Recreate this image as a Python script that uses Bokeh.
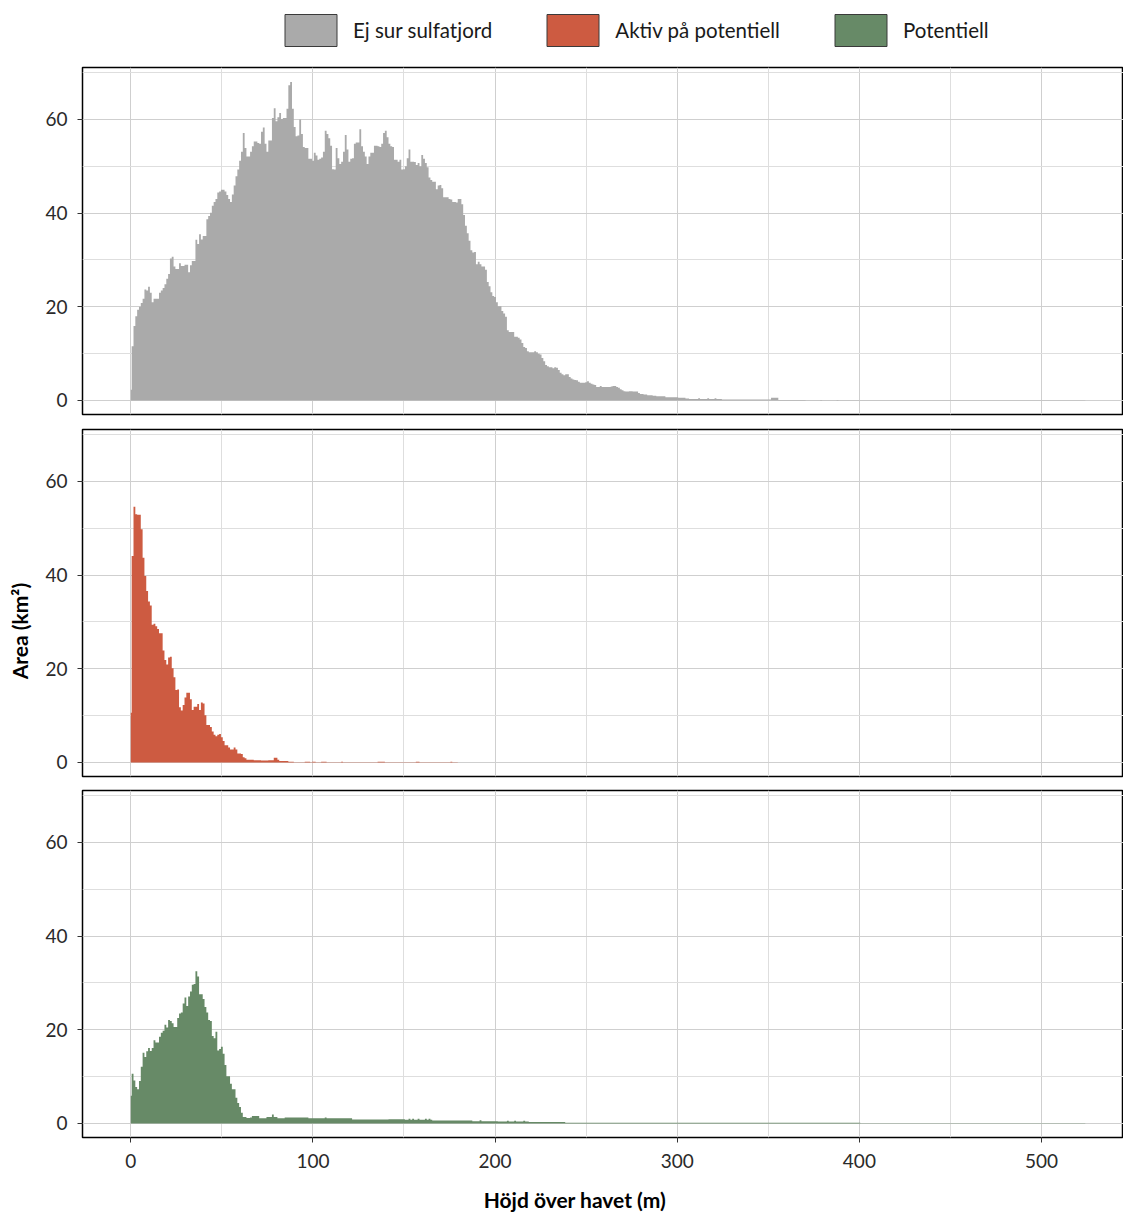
from bokeh.plotting import figure
from bokeh.layouts import column
from bokeh.models import (Range1d, Legend, LegendItem, ColumnDataSource,
                          FixedTicker)
from bokeh.embed import file_html
from bokeh.resources import INLINE

FONT = "Lato"

series_names = ["Ej sur sulfatjord", "Aktiv på potentiell", "Potentiell"]
series_colors = ["#aaaaaa", "#cd5b41", "#678a67"]

y_ticks = [0, 20, 40, 60]
y_minor = [10, 30, 50, 70]
x_ticks = [0, 100, 200, 300, 400, 500]
x_minor = [50, 150, 250, 350, 450, 550]

x_title = "Höjd över havet (m)"
y_title = "Area (km²)"
# non-breaking spaces used only to nudge the centred axis titles
TITLE_PAD = "\u00a0" * 11

# Area (km2) per 1 m elevation bin, starting at 0 m
gray_vals = [
    2.3, 11.6, 15.9, 18.0, 19.4, 20.0, 20.8, 21.7, 23.7, 23.5,
    24.3, 23.0, 21.0, 21.7, 21.7, 21.7, 23.0, 23.5, 24.0, 24.8,
    26.0, 27.0, 30.3, 30.7, 28.6, 28.1, 28.1, 29.3, 28.7, 28.7,
    29.0, 29.0, 27.4, 28.9, 29.8, 29.8, 34.3, 33.4, 35.5, 34.4,
    35.1, 35.1, 38.7, 39.4, 40.1, 41.6, 42.4, 43.0, 44.4, 44.6,
    45.0, 45.0, 44.6, 43.9, 43.0, 42.4, 44.0, 45.9, 47.9, 49.3,
    51.2, 53.1, 57.1, 53.9, 52.1, 52.1, 53.1, 54.3, 55.3, 55.3,
    55.0, 54.8, 57.4, 58.3, 54.8, 53.1, 55.5, 55.5, 60.3, 62.4,
    59.6, 60.5, 61.4, 60.1, 60.3, 60.3, 62.3, 67.3, 68.0, 62.3,
    58.4, 56.4, 56.6, 60.0, 56.9, 54.1, 53.9, 53.9, 51.6, 51.6,
    51.2, 52.9, 52.3, 51.4, 51.6, 51.9, 53.1, 57.6, 56.9, 56.0,
    54.4, 49.4, 49.3, 53.9, 51.7, 50.5, 51.0, 53.1, 56.7, 53.6,
    51.0, 51.6, 51.7, 54.8, 55.1, 55.1, 57.9, 54.3, 53.1, 52.1,
    50.5, 52.1, 52.9, 52.9, 54.4, 54.4, 54.3, 54.1, 54.8, 57.1,
    57.6, 56.2, 54.8, 54.3, 54.1, 51.4, 51.4, 51.0, 51.4, 49.3,
    49.4, 50.0, 51.7, 53.6, 51.0, 51.0, 50.9, 50.3, 50.7, 50.0,
    52.4, 51.6, 50.7, 49.8, 47.6, 47.1, 46.7, 46.7, 45.1, 45.9,
    46.0, 45.3, 43.4, 43.4, 43.4, 43.0, 42.9, 42.4, 42.4, 42.3,
    43.0, 43.0, 41.9, 39.6, 37.3, 35.7, 34.1, 32.1, 31.6, 31.7,
    29.1, 29.6, 29.1, 28.6, 28.6, 27.9, 25.3, 24.4, 23.1, 22.3,
    22.1, 21.0, 20.1, 20.1, 19.1, 18.6, 17.9, 15.0, 14.6, 14.6,
    14.6, 13.6, 13.6, 13.4, 13.0, 12.3, 11.4, 11.2, 10.5, 10.3,
    10.3, 10.3, 10.5, 10.3, 10.0, 9.8, 9.1, 8.4, 7.6, 7.3,
    7.1, 7.1, 6.9, 7.1, 7.0, 6.5, 5.9, 5.6, 5.4, 5.6,
    5.6, 5.0, 4.7, 4.5, 4.4, 4.3, 4.0, 3.8, 3.8, 3.8,
    3.9, 4.1, 3.8, 3.6, 3.4, 3.3, 2.9, 2.9, 3.1, 2.9,
    2.9, 2.9, 2.9, 2.9, 3.0, 3.1, 3.1, 2.9, 2.7, 2.4,
    2.2, 2.0, 1.9, 1.9, 2.0, 2.0, 1.9, 1.9, 1.9, 1.6,
    1.4, 1.4, 1.3, 1.3, 1.1, 1.1, 1.1, 1.0, 1.0, 0.9,
    0.9, 0.9, 0.9, 0.9, 0.7, 0.7, 0.7, 0.7, 0.7, 0.7,
    0.7, 0.6, 0.6, 0.6, 0.6, 0.4, 0.4, 0.3, 0.3, 0.3,
    0.3, 0.3, 0.5, 0.3, 0.3, 0.3, 0.3, 0.5, 0.3, 0.3,
    0.3, 0.5, 0.3, 0.3, 0.3, 0.2, 0.2, 0.2, 0.2, 0.2,
    0.2, 0.2, 0.2, 0.2, 0.2, 0.2, 0.2, 0.2, 0.2, 0.2,
    0.2, 0.2, 0.2, 0.2, 0.2, 0.2, 0.2, 0.2, 0.2, 0.2,
    0.2, 0.2, 0.6, 0.6, 0.6, 0.6, 0.1, 0.1, 0.1, 0.1,
    0.1, 0.1, 0.1, 0.1, 0.1, 0.1, 0.1, 0.1, 0.1, 0.1,
    0.1, 0.05, 0.05, 0.05, 0.05, 0.05, 0.05, 0.05, 0.05, 0.1,
    0.05, 0.05, 0.05, 0.05, 0.05, 0.05, 0.05, 0.05, 0.1, 0.05,
    0.05, 0.05, 0.05, 0.05, 0.05, 0.05, 0.05, 0.05, 0.05, 0.05,
    0.05, 0.05, 0.05, 0.05, 0.05, 0.05, 0.05, 0.05, 0.05, 0.05,
    0.05, 0.05, 0.05, 0.05, 0.05, 0.05, 0.05, 0.05, 0.05, 0.05,
    0.05, 0.05, 0.05, 0.05, 0.05, 0.05, 0.05, 0.05, 0.05, 0.05,
    0.05, 0.05, 0.05, 0.05, 0.05, 0.05, 0.05, 0.05, 0.05, 0.05,
    0.05, 0.05, 0.05, 0.05, 0.05, 0.05, 0.05, 0.05, 0.05, 0.05,
    0.05, 0.05, 0.05, 0.05, 0.05, 0.05, 0.05, 0.05, 0.05, 0.05,
    0.05, 0.05, 0.05, 0.05, 0.05, 0.05, 0.05, 0.05, 0.05, 0.05,
    0.05, 0.05, 0.05, 0.05, 0.05, 0.05, 0.05, 0.05, 0.05, 0.05,
    0.05, 0.05, 0.05, 0.05, 0.05, 0.05, 0.05, 0.05, 0.05, 0.05,
    0.05, 0.05, 0.05, 0.05, 0.05, 0.05, 0.05, 0.05, 0.05, 0.05,
    0.05, 0.05, 0.05, 0.05, 0.05, 0.05, 0.05, 0.05, 0.05, 0.05,
    0.05, 0.05, 0.05, 0.05, 0.05, 0.05, 0.05, 0.05, 0.05, 0.05,
    0.05, 0.05, 0.05, 0.05, 0.05,
]

red_vals = [
    10.6, 44.1, 54.6, 53.0, 52.9, 52.9, 49.8, 43.7, 39.8, 36.6,
    34.4, 33.5, 29.4, 29.6, 29.1, 28.5, 27.6, 27.6, 23.9, 21.9,
    20.9, 22.4, 22.6, 20.1, 18.2, 15.5, 15.6, 11.8, 11.1, 12.3,
    13.9, 14.9, 14.9, 13.5, 11.2, 11.9, 11.9, 12.5, 11.2, 12.8,
    12.6, 10.1, 8.0, 8.0, 7.6, 6.6, 5.9, 5.6, 5.9, 6.1,
    5.4, 4.6, 3.7, 3.7, 3.2, 2.8, 2.8, 3.2, 2.8, 1.9,
    1.9, 1.8, 1.1, 0.9, 0.6, 0.6, 0.6, 0.6, 0.5, 0.5,
    0.5, 0.5, 0.4, 0.4, 0.4, 0.4, 0.5, 0.5, 0.5, 1.0,
    1.0, 0.6, 0.3, 0.3, 0.3, 0.3, 0.3, 0.15, 0.15, 0.15,
    0.03, 0.03, 0.03, 0.03, 0.03, 0.03, 0.15, 0.15, 0.15, 0.03,
    0.15, 0.15, 0.03, 0.03, 0.03, 0.15, 0.15, 0.15, 0.03, 0.03,
    0.03, 0.03, 0.03, 0.03, 0.03, 0.03, 0.15, 0.03, 0.03, 0.03,
    0.03, 0.03, 0.03, 0.03, 0.03, 0.03, 0.03, 0.03, 0.03, 0.03,
    0.03, 0.03, 0.03, 0.03, 0.03, 0.03, 0.15, 0.15, 0.15, 0.15,
    0.03, 0.03, 0.03, 0.03, 0.03, 0.03, 0.03, 0.03, 0.03, 0.03,
    0.03, 0.03, 0.03, 0.03, 0.03, 0.03, 0.03, 0.15, 0.15, 0.03,
    0.03, 0.03, 0.03, 0.03, 0.03, 0.03, 0.03, 0.03, 0.03, 0.03,
    0.03, 0.03, 0.03, 0.03, 0.03, 0.03, 0.15, 0.03, 0.03, 0.03,
    0.02, 0.02, 0.02, 0.02, 0.02, 0.02, 0.02, 0.02, 0.02, 0.02,
    0.02, 0.02, 0.02, 0.02, 0.02, 0.02, 0.02, 0.02, 0.02, 0.02,
    0.02, 0.02, 0.02, 0.02, 0.02, 0.02, 0.02, 0.02, 0.02, 0.02,
    0.02, 0.02, 0.02, 0.02, 0.02, 0.02, 0.02, 0.02, 0.02, 0.02,
    0.02, 0.02, 0.02, 0.02, 0.02, 0.02, 0.02, 0.02, 0.02, 0.02,
    0.02, 0.02, 0.02, 0.02, 0.02, 0.02, 0.02, 0.02, 0.02, 0.02,
    0.02, 0.02, 0.02, 0.02, 0.02, 0.02, 0.02, 0.02, 0.02, 0.02,
    0.02, 0.02, 0.02, 0.02, 0.02, 0.02, 0.02, 0.02, 0.02, 0.02,
    0.02, 0.02, 0.02, 0.02, 0.02, 0.02, 0.02, 0.02, 0.02, 0.02,
    0.02, 0.02, 0.02, 0.02, 0.02, 0.02, 0.02, 0.02, 0.02, 0.02,
    0.02, 0.02, 0.02, 0.02, 0.02, 0.02, 0.02, 0.02, 0.02, 0.02,
    0.02, 0.02, 0.02, 0.02, 0.02, 0.02, 0.02, 0.02, 0.02, 0.02,
    0.02, 0.02, 0.02, 0.02, 0.02, 0.02, 0.02, 0.02, 0.02, 0.02,
    0.02, 0.02, 0.02, 0.02, 0.02, 0.02, 0.02, 0.02, 0.02, 0.02,
    0.02, 0.02, 0.02, 0.02, 0.02, 0.02, 0.02, 0.02, 0.02, 0.02,
    0.02, 0.02, 0.02, 0.02, 0.02, 0.02, 0.02, 0.02, 0.02, 0.02,
    0.02, 0.02, 0.02, 0.02, 0.02, 0.02, 0.02, 0.02, 0.02, 0.02,
    0.02, 0.02, 0.02, 0.02, 0.02, 0.02, 0.02, 0.02, 0.02, 0.02,
    0.02, 0.02, 0.02, 0.02, 0.02, 0.02, 0.02, 0.02, 0.02, 0.02,
    0.02, 0.02, 0.02, 0.02, 0.02, 0.02, 0.02, 0.02, 0.02, 0.02,
    0.02, 0.02, 0.02, 0.02, 0.02, 0.02, 0.02, 0.02, 0.02, 0.02,
    0.02, 0.02, 0.02, 0.02, 0.02, 0.02, 0.02, 0.02, 0.02, 0.02,
    0.02, 0.02, 0.02, 0.02, 0.02, 0.02, 0.02, 0.02, 0.02, 0.02,
    0.02, 0.02, 0.02, 0.02, 0.02, 0.02, 0.02, 0.02, 0.02, 0.02,
    0.02, 0.02, 0.02, 0.02, 0.02, 0.02, 0.02, 0.02, 0.02, 0.02,
    0.02, 0.02, 0.02, 0.02, 0.02, 0.02, 0.02, 0.02, 0.02, 0.02,
    0.02, 0.02, 0.02, 0.02, 0.02, 0.02, 0.02, 0.02, 0.02, 0.02,
    0.02, 0.02, 0.02, 0.02, 0.02, 0.02, 0.02, 0.02, 0.02, 0.02,
    0.02, 0.02, 0.02, 0.02, 0.02, 0.02, 0.02, 0.02, 0.02, 0.02,
    0.02, 0.02, 0.02, 0.02, 0.02, 0.02, 0.02, 0.02, 0.02, 0.02,
    0.02, 0.02, 0.02, 0.02, 0.02, 0.02, 0.02, 0.02, 0.02, 0.02,
    0.02, 0.02, 0.02, 0.02, 0.02,
]

green_vals = [
    5.9, 10.6, 9.2, 7.8, 7.3, 9.1, 12.1, 15.1, 14.2, 15.4,
    16.1, 15.5, 16.1, 17.8, 17.3, 17.3, 18.5, 19.4, 19.8, 21.1,
    20.5, 22.1, 21.9, 21.4, 20.6, 20.6, 22.5, 23.5, 23.7, 25.6,
    26.9, 25.1, 27.1, 28.2, 29.6, 29.8, 32.5, 31.4, 27.6, 27.6,
    26.6, 24.9, 23.7, 22.1, 21.9, 18.7, 18.2, 19.6, 15.6, 15.9,
    16.4, 14.9, 12.5, 10.1, 10.1, 8.5, 7.3, 7.3, 5.5, 4.4,
    3.5, 2.3, 1.4, 1.4, 1.2, 1.2, 1.3, 1.6, 1.6, 1.6,
    1.6, 1.1, 1.1, 1.1, 1.1, 1.4, 1.4, 1.4, 1.9, 1.4,
    1.4, 1.1, 1.1, 1.1, 1.1, 1.3, 1.3, 1.3, 1.3, 1.3,
    1.3, 1.3, 1.3, 1.3, 1.3, 1.3, 1.3, 1.3, 1.1, 1.1,
    1.1, 1.1, 1.1, 1.1, 1.1, 1.1, 1.1, 1.3, 1.1, 1.1,
    1.1, 1.1, 1.1, 1.1, 1.1, 1.1, 1.1, 1.1, 1.1, 1.1,
    1.1, 1.1, 0.85, 0.85, 0.85, 0.85, 0.85, 0.85, 0.85, 0.85,
    0.85, 0.85, 0.85, 0.85, 0.85, 0.85, 0.85, 0.85, 0.85, 0.85,
    0.85, 0.85, 0.9, 0.9, 0.9, 0.9, 0.9, 0.9, 0.9, 0.9,
    0.9, 0.8, 0.8, 1.0, 0.8, 1.0, 0.8, 0.8, 1.0, 0.8,
    0.8, 0.8, 1.0, 0.8, 1.0, 0.8, 0.65, 0.65, 0.65, 0.65,
    0.65, 0.65, 0.65, 0.65, 0.65, 0.65, 0.65, 0.65, 0.65, 0.65,
    0.65, 0.65, 0.65, 0.65, 0.65, 0.65, 0.65, 0.65, 0.5, 0.5,
    0.5, 0.5, 0.7, 0.5, 0.5, 0.5, 0.5, 0.5, 0.5, 0.5,
    0.5, 0.5, 0.45, 0.45, 0.45, 0.45, 0.45, 0.6, 0.45, 0.45,
    0.45, 0.6, 0.45, 0.45, 0.45, 0.45, 0.6, 0.45, 0.45, 0.3,
    0.3, 0.3, 0.3, 0.3, 0.3, 0.3, 0.3, 0.3, 0.3, 0.3,
    0.3, 0.3, 0.3, 0.3, 0.3, 0.3, 0.3, 0.3, 0.3, 0.15,
    0.15, 0.15, 0.15, 0.15, 0.15, 0.15, 0.15, 0.15, 0.15, 0.15,
    0.15, 0.15, 0.15, 0.15, 0.15, 0.15, 0.15, 0.15, 0.15, 0.15,
    0.15, 0.15, 0.15, 0.15, 0.15, 0.15, 0.15, 0.15, 0.15, 0.15,
    0.15, 0.15, 0.15, 0.15, 0.15, 0.15, 0.15, 0.15, 0.15, 0.15,
    0.15, 0.15, 0.15, 0.15, 0.15, 0.15, 0.15, 0.15, 0.15, 0.15,
    0.15, 0.15, 0.15, 0.15, 0.15, 0.15, 0.15, 0.15, 0.15, 0.15,
    0.15, 0.15, 0.15, 0.15, 0.15, 0.15, 0.15, 0.15, 0.15, 0.15,
    0.15, 0.15, 0.15, 0.15, 0.15, 0.15, 0.15, 0.15, 0.15, 0.15,
    0.15, 0.15, 0.15, 0.15, 0.15, 0.15, 0.15, 0.15, 0.15, 0.15,
    0.15, 0.15, 0.15, 0.15, 0.15, 0.15, 0.15, 0.15, 0.15, 0.15,
    0.15, 0.15, 0.15, 0.15, 0.15, 0.15, 0.15, 0.15, 0.15, 0.15,
    0.15, 0.15, 0.15, 0.15, 0.15, 0.15, 0.15, 0.15, 0.15, 0.15,
    0.15, 0.15, 0.15, 0.15, 0.15, 0.15, 0.15, 0.15, 0.15, 0.15,
    0.15, 0.15, 0.15, 0.15, 0.15, 0.15, 0.15, 0.15, 0.15, 0.15,
    0.15, 0.15, 0.15, 0.15, 0.15, 0.15, 0.15, 0.15, 0.15, 0.15,
    0.15, 0.15, 0.15, 0.15, 0.15, 0.15, 0.15, 0.15, 0.15, 0.15,
    0.15, 0.04, 0.04, 0.04, 0.04, 0.04, 0.04, 0.04, 0.04, 0.04,
    0.04, 0.04, 0.04, 0.04, 0.04, 0.04, 0.04, 0.04, 0.04, 0.04,
    0.04, 0.04, 0.04, 0.04, 0.04, 0.04, 0.04, 0.04, 0.04, 0.04,
    0.04, 0.04, 0.04, 0.04, 0.04, 0.04, 0.04, 0.04, 0.04, 0.04,
    0.04, 0.04, 0.04, 0.04, 0.04, 0.04, 0.04, 0.04, 0.04, 0.04,
    0.04, 0.04, 0.04, 0.04, 0.04, 0.04, 0.04, 0.04, 0.04, 0.04,
    0.04, 0.04, 0.04, 0.04, 0.04, 0.04, 0.04, 0.04, 0.04, 0.04,
    0.04, 0.04, 0.04, 0.04, 0.04, 0.04, 0.04, 0.04, 0.04, 0.04,
    0.04, 0.04, 0.04, 0.04, 0.04, 0.04, 0.04, 0.04, 0.04, 0.04,
    0.04, 0.04, 0.04, 0.04, 0.04, 0.04, 0.04, 0.04, 0.04, 0.04,
    0.04, 0.04, 0.04, 0.04, 0.04, 0.04, 0.04, 0.04, 0.04, 0.04,
    0.04, 0.04, 0.04, 0.04, 0.04, 0.04, 0.04, 0.04, 0.04, 0.04,
    0.04, 0.04, 0.04, 0.04, 0.04,
]

series_vals = [gray_vals, red_vals, green_vals]
series_sources = [ColumnDataSource(dict(x=list(range(len(v))), y=v))
                  for v in series_vals]

X_RANGE = (-26.5, 545.0)
Y_RANGE = (-2.99, 71.1)


def make_panel(src, color, border_top, border_bottom, show_x, ylabel):
    p = figure(frame_width=1041, frame_height=347,
               x_range=Range1d(*X_RANGE), y_range=Range1d(*Y_RANGE),
               output_backend="svg", toolbar_location=None,
               min_border_left=82, min_border_right=0,
               min_border_top=border_top, min_border_bottom=border_bottom)
    p.background_fill_color = "white"
    p.border_fill_color = "white"
    p.outline_line_color = "black"
    p.outline_line_width = 1.5
    p.varea_step(x="x", y1=0, y2="y", step_mode="center", source=src,
                 fill_color=color)
    yt = FixedTicker(ticks=y_ticks, minor_ticks=y_minor)
    xt = FixedTicker(ticks=x_ticks, minor_ticks=x_minor)
    p.yaxis.ticker = yt
    p.xaxis.ticker = xt
    p.ygrid.ticker = yt
    p.xgrid.ticker = xt
    for g in (p.xgrid, p.ygrid):
        g.grid_line_color = "#cfcfcf"
        g.grid_line_width = 1
        g.minor_grid_line_color = "#dedede"
        g.minor_grid_line_width = 1
    for ax in (p.xaxis, p.yaxis):
        ax.axis_line_color = None
        ax.major_tick_out = 5
        ax.major_tick_in = 0
        ax.minor_tick_out = 0
        ax.minor_tick_in = 0
        ax.major_tick_line_color = "#333333"
        ax.major_label_text_font = FONT
        ax.major_label_text_font_size = "19px"
        ax.major_label_text_color = "#2a2a2a"
        ax.axis_label_text_font = FONT
        ax.axis_label_text_font_style = "bold"
        ax.axis_label_text_font_size = "21px"
        ax.axis_label_text_color = "black"
    p.yaxis.major_label_standoff = 10
    p.xaxis.major_label_standoff = 11
    if ylabel:
        p.yaxis.axis_label = ylabel + TITLE_PAD
        p.yaxis.axis_label_standoff = 10
    if show_x:
        p.xaxis.axis_label = x_title + TITLE_PAD
        p.xaxis.axis_label_standoff = 16
    else:
        p.xaxis.visible = False
    return p


# legend strip (its renderers draw the same data, outside its own visible range)
leg = figure(width=1123, height=60, output_backend="svg", toolbar_location=None,
             x_axis_type=None, y_axis_type=None, min_border=0,
             x_range=Range1d(-60, -40), y_range=Range1d(0, 1))
leg.outline_line_color = None
leg.background_fill_color = "white"
leg.border_fill_color = "white"
items = []
for name, color, src in zip(series_names, series_colors, series_sources):
    r = leg.vbar(x="x", top="y", width=1, source=src, fill_color=color,
                 line_color="#3a3a3a", line_width=1)
    items.append(LegendItem(label=name, renderers=[r]))
legend = Legend(items=items, orientation="horizontal", location=(196, 10),
                glyph_width=65, glyph_height=40, label_standoff=10, spacing=48,
                padding=0, margin=0, border_line_color=None,
                background_fill_alpha=0,
                label_text_font=FONT, label_text_font_size="20.5px",
                label_text_color="#1a1a1a")
leg.add_layout(legend, "center")

p1 = make_panel(series_sources[0], series_colors[0], 7, 7, False, None)
p2 = make_panel(series_sources[1], series_colors[1], 8, 7, False, y_title)
p3 = make_panel(series_sources[2], series_colors[2], 7, 77, True, None)

layout = column(leg, p1, p2, p3, spacing=0)

with open("out.html", "w") as f:
    f.write(file_html(layout, INLINE))
